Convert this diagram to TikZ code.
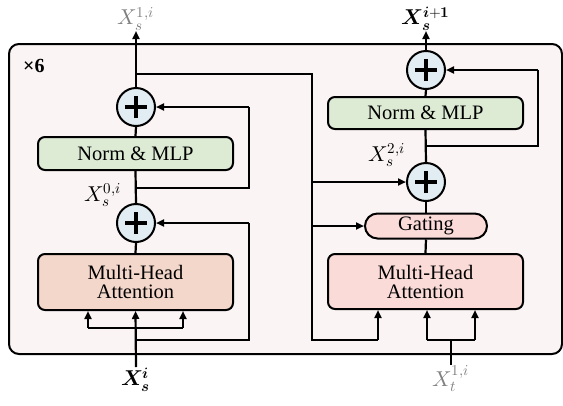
\documentclass[tikz,border=0pt]{standalone}
\usepackage{fontspec}
\usepackage{unicode-math}
\setmainfont{Liberation Serif}
\setmathfont{Latin Modern Math}
\usetikzlibrary{arrows.meta}
\definecolor{bgpink}{HTML}{FBF4F4}
\definecolor{mlpgreen}{HTML}{DDEBD5}
\definecolor{mhaorange}{HTML}{F4D7CB}
\definecolor{mhapink}{HTML}{FADBD8}
\definecolor{plusblue}{HTML}{E1EDF3}
\definecolor{labgray}{HTML}{808080}
\tikzset{
  ln/.style={line width=2.2pt},
  arr/.style={ln,-{Triangle[length=8pt,width=7pt]}},
  blk/.style={draw,line width=2pt,rounded corners=7pt,minimum width=195pt,align=center,font=\fontsize{20.5}{22}\selectfont},
  plusnode/.style={draw,circle,line width=2pt,fill=plusblue,minimum size=38pt,inner sep=0pt,
    path picture={\draw[line width=4pt] (path picture bounding box.center) ++(-11pt,0) -- ++(22pt,0);
                  \draw[line width=4pt] (path picture bounding box.center) ++(0,-11pt) -- ++(0,22pt);}},
  lab/.style={font=\fontsize{21.5}{23}\selectfont,inner sep=0.5pt},
}
\begin{document}
\begin{tikzpicture}[x=1pt,y=-1pt]
\useasboundingbox (0,0) rectangle (563,405);
% outer frame
\node[draw,line width=2pt,rounded corners=10pt,fill=bgpink,minimum width=553pt,minimum height=310pt,inner sep=0pt] (frame) at (285.5,199) {};
\node[font=\fontsize{20}{22}\selectfont\bfseries,anchor=west,inner sep=0pt] (rep) at (23,66) {×6};
% left column
\node[plusnode] (pL2) at (136,107) {};
\node[blk,fill=mlpgreen,minimum height=33pt] (mlpL) at (135.5,153.5) {Norm \& MLP};
\node[plusnode] (pL1) at (136,223) {};
\node[blk,fill=mhaorange,minimum height=56pt,inner sep=1pt] (mhaL) at (135.5,282) {Multi-Head\\[-3pt]Attention};
\node[lab,anchor=north] (xin) at (136,367) {$\symbfit{X}_{\symbfit{s}}^{\symbfit{i}}$};
\node[lab,text=labgray,anchor=south] (x1) at (136,31) {$X_s^{1,i}$};
\node[lab] (x0) at (103,195) {$X_s^{0,i}$};
% right column
\node[plusnode] (pR2) at (426,70) {};
\node[blk,fill=mlpgreen,minimum height=32pt] (mlpR) at (425.5,113) {Norm \& MLP};
\node[plusnode] (pR1) at (426,182) {};
\node[draw,line width=2pt,rounded corners=12.5pt,fill=mhapink,minimum width=122pt,minimum height=25pt,inner sep=0pt,font=\fontsize{20.5}{22}\selectfont] (gate) at (426,226) {Gating};
\node[blk,fill=mhapink,minimum height=55pt,inner sep=1pt] (mhaR) at (425.5,281.5) {Multi-Head\\[-3pt]Attention};
\node[lab,anchor=south] (xout) at (426,31) {$\symbfit{X}_{\symbfit{s}}^{\symbfit{i}\symbf{+1}}$};
\node[lab,text=labgray,anchor=north] (xt) at (451,365) {$X_t^{1,i}$};
\node[lab] (x2) at (387,155) {$X_s^{2,i}$};
% coordinates
\coordinate (tb) at (136,74);
\coordinate (tr) at (312,74);
\coordinate (br) at (312,340);
\coordinate (bq) at (378,340);
\coordinate (j1) at (312,182);
\coordinate (j2) at (312,226);
\coordinate (fL2a) at (136,188);
\coordinate (fL2b) at (249,188);
\coordinate (fL2c) at (249,107);
\coordinate (fL1a) at (136,340);
\coordinate (fL1b) at (249,340);
\coordinate (fL1c) at (249,223);
\coordinate (sL) at (88,328);
\coordinate (sR) at (183,328);
\coordinate (fRa) at (426,146);
\coordinate (fRb) at (538,146);
\coordinate (fRc) at (538,70);
\coordinate (tj) at (451,340);
\coordinate (tL) at (427,340);
\coordinate (tR) at (475,340);
% left connectors
\draw[arr] (pL2.north) -- (x1.south);
\draw[ln] (mlpL.north) -- (pL2.south);
\draw[ln] (pL1.north) -- (mlpL.south);
\draw[ln] (mhaL.north) -- (pL1.south);
\draw[arr] (xin.north) -- (mhaL.south);
\draw[ln] (sL) -- (sR);
\draw[arr] (sL) -- (sL |- mhaL.south);
\draw[arr] (sR) -- (sR |- mhaL.south);
\draw[ln] (fL2a) -- (fL2b) -- (fL2c);
\draw[arr] (fL2c) -- (pL2.east);
\draw[ln] (fL1a) -- (fL1b) -- (fL1c);
\draw[arr] (fL1c) -- (pL1.east);
% cross connector
\draw[ln] (tb) -- (tr) -- (br) -- (bq);
\draw[arr] (bq) -- (bq |- mhaR.south);
\draw[arr] (j1) -- (pR1.west);
\draw[arr] (j2) -- (gate.west);
% right connectors
\draw[arr] (pR2.north) -- (xout.south);
\draw[ln] (mlpR.north) -- (pR2.south);
\draw[ln] (pR1.north) -- (mlpR.south);
\draw[ln] (gate.north) -- (pR1.south);
\draw[ln] (mhaR.north) -- (gate.south);
\draw[ln] (fRa) -- (fRb) -- (fRc);
\draw[arr] (fRc) -- (pR2.east);
\draw[ln] (xt.north) -- (tj);
\draw[ln] (tL) -- (tR);
\draw[arr] (tL) -- (tL |- mhaR.south);
\draw[arr] (tR) -- (tR |- mhaR.south);
\end{tikzpicture}
\end{document}
